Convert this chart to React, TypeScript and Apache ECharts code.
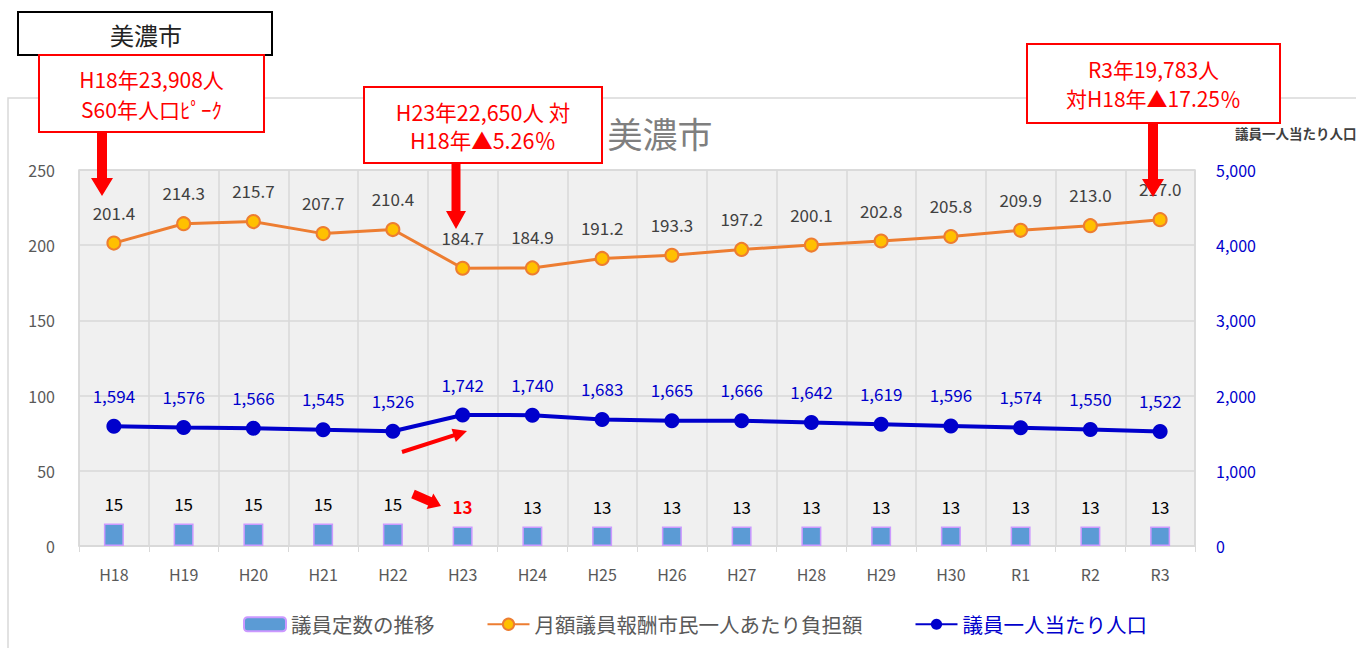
import React, { useEffect, useRef } from "react";
import * as echarts from "echarts";

const categories = ["H18", "H19", "H20", "H21", "H22", "H23", "H24", "H25", "H26", "H27", "H28", "H29", "H30", "R1", "R2", "R3"];
const seats = [15, 15, 15, 15, 15, 13, 13, 13, 13, 13, 13, 13, 13, 13, 13, 13];
const burden = [201.4, 214.3, 215.7, 207.7, 210.4, 184.7, 184.9, 191.2, 193.3, 197.2, 200.1, 202.8, 205.8, 209.9, 213.0, 217.0];
const perCapita = [1594, 1576, 1566, 1545, 1526, 1742, 1740, 1683, 1665, 1666, 1642, 1619, 1596, 1574, 1550, 1522];
const seriesNames = ["議員定数の推移", "月額議員報酬市民一人あたり負担額", "議員一人当たり人口"];
const highlightIndex = 5;

const FONT = "'Noto Sans CJK JP', 'Noto Sans', sans-serif";

function arrowPts(x1: number, y1: number, x2: number, y2: number, sw: number, hw: number, hl: number) {
  const len = Math.hypot(x2 - x1, y2 - y1);
  const dx = (x2 - x1) / len, dy = (y2 - y1) / len;
  const nx = -dy, ny = dx;
  const bx = x2 - dx * hl, by = y2 - dy * hl;
  return [
    [x1 + nx * sw / 2, y1 + ny * sw / 2],
    [bx + nx * sw / 2, by + ny * sw / 2],
    [bx + nx * hw / 2, by + ny * hw / 2],
    [x2, y2],
    [bx - nx * hw / 2, by - ny * hw / 2],
    [bx - nx * sw / 2, by - ny * sw / 2],
    [x1 - nx * sw / 2, y1 - ny * sw / 2],
  ];
}

function redBox(x: number, y: number, w: number, h: number, lines: string[], lineH: number, size: number) {
  const cy = y + h / 2;
  return {
    type: "group",
    z: 100,
    children: [
      { type: "rect", shape: { x, y, width: w, height: h }, style: { fill: "#ffffff", stroke: "#ff0000", lineWidth: 2 } },
      ...lines.map((t, i) => ({
        type: "text",
        x: x + w / 2,
        y: cy + (i - (lines.length - 1) / 2) * lineH,
        style: {
          text: t,
          fill: "#ff0000",
          font: `${size}px ${FONT}`,
          align: "center",
          verticalAlign: "middle",
        },
      })),
    ],
  };
}

function arrow(x1: number, y1: number, x2: number, y2: number, sw: number, hw: number, hl: number) {
  return {
    type: "polygon",
    z: 101,
    shape: { points: arrowPts(x1, y1, x2, y2, sw, hw, hl) },
    style: { fill: "#ff0000" },
  };
}

export default function App() {
  const ref = useRef<HTMLDivElement>(null);
  useEffect(() => {
    const chart = echarts.init(ref.current!, null, { renderer: "svg" });
    const option: any = {
      animation: false,
      backgroundColor: "#ffffff",
      textStyle: { fontFamily: FONT },
      grid: {
        left: 79,
        right: 161,
        top: 170,
        bottom: 102,
        show: true,
        backgroundColor: "#f0f0f0",
        borderColor: "#d9d9d9",
        borderWidth: 1.5,
      },
      legend: {
        left: 238,
        top: 609,
        itemWidth: 42,
        itemHeight: 14,
        itemGap: 52,
        textStyle: { fontSize: 20.5, color: "#595959", fontFamily: FONT },
        data: [
          { name: seriesNames[0] },
          { name: seriesNames[1] },
          { name: seriesNames[2], textStyle: { color: "#0000cc" } },
        ],
      },
      xAxis: {
        type: "category",
        data: categories,
        boundaryGap: true,
        axisLine: { show: true, lineStyle: { color: "#d9d9d9", width: 1.5 } },
        axisTick: { show: true, length: 6, lineStyle: { color: "#d9d9d9" } },
        axisLabel: { color: "#595959", fontSize: 16, margin: 20 },
        splitLine: { show: true, lineStyle: { color: "#d9d9d9", width: 1.5 } },
      },
      yAxis: [
        {
          type: "value",
          min: 0,
          max: 250,
          interval: 50,
          axisLine: { show: false },
          axisTick: { show: false },
          axisLabel: { color: "#595959", fontSize: 16, margin: 24 },
          splitLine: { show: true, lineStyle: { color: "#d9d9d9", width: 1.5 } },
        },
        {
          type: "value",
          min: 0,
          max: 5000,
          interval: 1000,
          axisLine: { show: false },
          axisTick: { show: false },
          axisLabel: {
            color: "#0000cc",
            fontSize: 16,
            margin: 21,
            formatter: (v: number) => v.toLocaleString("en-US"),
          },
          splitLine: { show: false },
        },
      ],
      series: [
        {
          name: seriesNames[0],
          type: "bar",
          yAxisIndex: 0,
          barWidth: 20,
          data: seats.map((v, i) =>
            i === highlightIndex
              ? { value: v, label: { color: "#ff0000", fontWeight: "bold" } }
              : v
          ),
          itemStyle: { color: "#5b9bd5", borderColor: "#cc99ff", borderWidth: 1.5 },
          label: { show: true, position: "top", distance: 11, color: "#000000", fontSize: 17 },
          z: 2,
        },
        {
          name: seriesNames[1],
          type: "line",
          yAxisIndex: 0,
          data: burden,
          symbol: "circle",
          symbolSize: 13,
          lineStyle: { color: "#ed7d31", width: 3 },
          itemStyle: { color: "#ffc000", borderColor: "#ed7d31", borderWidth: 2 },
          label: {
            show: true,
            position: "top",
            distance: 15,
            color: "#404040",
            fontSize: 17,
            formatter: (p: any) => Number(p.value).toFixed(1),
          },
          z: 3,
        },
        {
          name: seriesNames[2],
          type: "line",
          yAxisIndex: 1,
          data: perCapita,
          symbol: "circle",
          symbolSize: 15,
          lineStyle: { color: "#0000cc", width: 4 },
          itemStyle: { color: "#0000cc" },
          label: {
            show: true,
            position: "top",
            distance: 15,
            color: "#0000cc",
            fontSize: 17,
            formatter: (p: any) => Number(p.value).toLocaleString("en-US"),
          },
          z: 4,
        },
      ],
      graphic: [
        {
          type: "rect",
          z: -10,
          silent: true,
          shape: { x: 8, y: 98, width: 1400, height: 600 },
          style: { fill: "none", stroke: "#d9d9d9", lineWidth: 1.5 },
        },
        {
          type: "text",
          x: 660,
          y: 132,
          style: {
            text: "美濃市",
            fill: "#7f7f7f",
            font: `35px ${FONT}`,
            align: "center",
            verticalAlign: "middle",
          },
        },
        {
          type: "text",
          x: 1235,
          y: 133,
          style: {
            text: "議員一人当たり人口",
            fill: "#404040",
            font: `bold 13.5px ${FONT}`,
            align: "left",
            verticalAlign: "middle",
          },
        },
        {
          type: "group",
          z: 100,
          children: [
            { type: "rect", shape: { x: 18, y: 12, width: 254, height: 43 }, style: { fill: "#ffffff", stroke: "#000000", lineWidth: 2 } },
            {
              type: "text",
              x: 146,
              y: 34,
              style: { text: "美濃市", fill: "#222222", font: `24px ${FONT}`, align: "center", verticalAlign: "middle" },
            },
          ],
        },
        redBox(39, 55, 225, 77, ["H18年23,908人", "S60年人口ﾋﾟｰｸ"], 30, 21),
        redBox(364, 87, 238, 76, ["H23年22,650人 対", "H18年▲5.26％"], 28, 21.5),
        redBox(1027, 44, 253, 79, ["R3年19,783人", "対H18年▲17.25％"], 29, 21),
        arrow(102, 132, 102, 196, 10, 22, 18),
        arrow(456, 163, 456, 229, 9, 20, 18),
        arrow(1153, 123, 1153, 197, 10, 22, 18),
        arrow(402, 452, 467, 431, 4, 14, 14),
        arrow(413, 494, 441, 506, 9, 17, 12),
      ],
    };
    chart.setOption(option);
    return () => chart.dispose();
  }, []);
  return <div ref={ref} style={{ position: "fixed", left: 0, top: 0, width: 1356, height: 648 }} />;
}
